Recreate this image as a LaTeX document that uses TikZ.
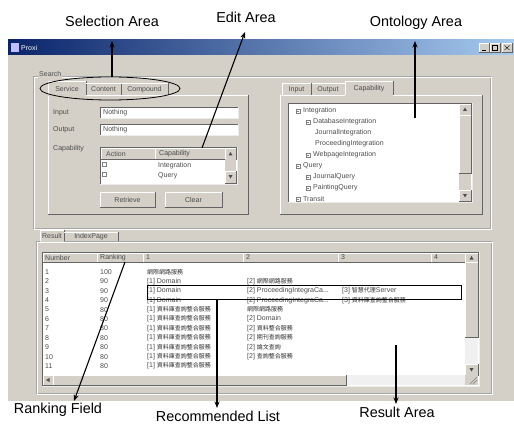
\documentclass[tikz,border=0pt]{standalone}
\usepackage{fontspec}
\setmainfont{Liberation Sans}
\newfontfamily\cjkf{Noto Sans CJK TC}
\usetikzlibrary{arrows.meta}
\definecolor{winbg}{RGB}{212,208,200}
\definecolor{tbdark}{RGB}{10,36,106}
\definecolor{tblight}{RGB}{166,202,240}
\definecolor{guidark}{RGB}{100,100,100}
\newcommand{\cj}[1]{{\cjkf\fontsize{6}{7}\selectfont\color{gray!35!black}#1}}
% raised (button) box
\newcommand{\guiraised}[4]{%
  \fill[winbg] (#1,#2) rectangle (#3,#4);
  \draw[white] (#1,#4) -- (#1,#2) -- (#3,#2);
  \draw[guidark] (#1,#4) -- (#3,#4) -- (#3,#2);}
% sunken white field
\newcommand{\guisunk}[4]{%
  \fill[white] (#1,#2) rectangle (#3,#4);
  \draw[guidark] (#1,#4) -- (#1,#2) -- (#3,#2);
  \draw[white!85!gray] (#1,#4) -- (#3,#4) -- (#3,#2);}
% tab panel outline
\newcommand{\guipanel}[4]{%
  \draw[white] (#1,#4) -- (#1,#2) -- (#3,#2);
  \draw[guidark] (#1,#4) -- (#3,#4) -- (#3,#2);}
\begin{document}
\begin{tikzpicture}[x=1pt,y=-1pt,
  gt/.style={font=\fontsize{7}{8}\selectfont, text=gray!60!black, inner sep=0pt, anchor=west},
  gtc/.style={gt, anchor=center},
  lbl/.style={font=\fontsize{14.4}{16}\selectfont, inner sep=0pt, anchor=base, text=black},
  callout/.style={-{Stealth[length=6.5pt,width=5pt]}, line width=1.1pt, black},
  hilite/.style={draw=black, line width=0.8pt}]
\useasboundingbox (0,0) rectangle (514,425);
\fill[white] (0,0) rectangle (514,425);

% ---------- window ----------
\fill[winbg] (8,40) rectangle (514,401);
\shade[left color=tbdark, right color=tblight] (8,40) rectangle (514,55);
\fill[blue!25!white] (11,43) rectangle (19,52);
\node[gt, text=white] (title) at (21,47.5) {Proxi};
\guiraised{479}{43}{489}{52}
\guiraised{490}{43}{500}{52}
\guiraised{502}{43}{512}{52}
\draw[black] (482,50) -- (486,50);
\draw[black] (492.5,45.5) rectangle (497.5,50);
\draw[black] (504.5,45.5) -- (509.5,50) (509.5,45.5) -- (504.5,50);

% outer group frames
\draw[gray!70] (33,76) rectangle (490,228);
\draw[white] (34,77) rectangle (491,229);
\node[gt, fill=winbg, inner sep=1pt] (grp) at (38,74) {Search};
\draw[gray!70] (36,241) rectangle (491,393);
\draw[white] (37,242) rectangle (492,394);

% ---------- left (selection / edit) panel ----------
\guipanel{48}{95}{248}{214}
% tabs
\fill[winbg] (48,81) rectangle (86,96);
\draw[white] (48,95) -- (48,81) -- (86,81);
\draw[guidark] (86,81) -- (86,95);
\draw[white] (86,83) -- (121,83);
\draw[guidark] (121,83) -- (121,95);
\draw[white] (121,83) -- (168,83);
\draw[guidark] (168,83) -- (168,95);
\node[gtc] (tabServ) at (67,88.5) {Service};
\node[gtc] (tabCont) at (103.5,89.5) {Content};
\node[gtc] (tabComp) at (144.5,89.5) {Compound};

\node[gt] (lblIn) at (53,112.5) {Input};
\node[gt] (lblOut) at (53,129.5) {Output};
\node[gt] (lblCap) at (53,148.5) {Capability};
\guisunk{100}{107}{238}{118}
\guisunk{100}{124}{238}{135}
\node[gt] (valIn) at (103,112.5) {Nothing};
\node[gt] (valOut) at (103,129.5) {Nothing};

% capability table
\guisunk{100}{147}{237}{184}
\guiraised{101}{148}{155}{159}
\guiraised{155}{148}{225}{159}
\guiraised{225}{148}{236}{159}
\fill[winbg] (225,159) rectangle (236,183);
\guiraised{225}{171}{236}{183}
\fill[gray!60!black] (228.5,155.5) -- (232.5,155.5) -- (230.5,152) -- cycle;
\fill[gray!60!black] (228.5,175) -- (232.5,175) -- (230.5,178.5) -- cycle;
\node[gt] (hdAct) at (106,153.5) {Action};
\node[gt] (hdCap) at (159,153.5) {Capability};
\draw[gray] (102,162.5) rectangle (106,166.5);
\draw[gray] (102,172.5) rectangle (106,176.5);
\node[gt] (rowInt) at (158,165.5) {Integration};
\node[gt] (rowQry) at (158,175.5) {Query};
% buttons
\guiraised{100}{192}{155}{207}
\guiraised{165}{192}{222}{207}
\node[gtc] (btnRet) at (127.5,199.5) {Retrieve};
\node[gtc] (btnClr) at (193.5,199.5) {Clear};

% selection ellipse
\draw[line width=0.8pt] (110,88.5) ellipse [x radius=70pt, y radius=11.5pt];

% ---------- right (ontology) panel ----------
\guipanel{280}{95}{482}{214}
\draw[white] (282,95) -- (282,83) -- (311,83) (311,83) -- (345,83);
\draw[guidark] (311,83) -- (311,95) (345,83) -- (345,95);
\fill[winbg] (345,81) rectangle (393,96);
\draw[white] (345,95) -- (345,81) -- (393,81);
\draw[guidark] (393,81) -- (393,95);
\node[gtc] (tabIn) at (296.5,89.5) {Input};
\node[gtc] (tabOut) at (328,89.5) {Output};
\node[gtc] (tabCap) at (369,88.5) {Capability};

\guisunk{288}{103}{472}{202}
\fill[winbg] (459,104) rectangle (471,201);
\guiraised{459}{104}{471}{115}
\guiraised{459}{115}{471}{173}
\guiraised{459}{190}{471}{201}
\fill[gray!60!black] (463,111) -- (467,111) -- (465,107.5) -- cycle;
\fill[gray!60!black] (463,194) -- (467,194) -- (465,197.5) -- cycle;
\begin{scope}
\clip (289,104) rectangle (458,201);
\foreach \bxx/\tx/\yy/\txt [count=\k] in {
  298/303/111/Integration,
  308/313/122/DatabaseIntegration,
  0/315/133/JournalIntegration,
  0/315/144/ProceedingIntegration,
  308/313/155/WebpageIntegration,
  298/303/166/Query,
  308/313/177/JournalQuery,
  308/313/188/PaintingQuery,
  298/303/199/Transit}{
  \ifnum\bxx>0
    \draw[gray] (\bxx-2,\yy-2) rectangle (\bxx+2,\yy+2);
    \draw[gray] (\bxx-1,\yy) -- (\bxx+1,\yy);
  \fi
  \node[gt] (tree\k) at (\tx,\yy) {\txt};
}
\end{scope}

% ---------- bottom (result) panel ----------
\fill[winbg] (40,230) rectangle (64,242);
\draw[white] (40,241) -- (40,230) -- (64,230);
\draw[guidark] (64,230) -- (64,241);
\draw[white] (64,232) -- (118,232);
\draw[guidark] (118,232) -- (118,241);
\node[gtc] (tabRes) at (52,235.5) {Result};
\node[gtc] (tabIdx) at (91,236.5) {IndexPage};

\guisunk{42}{252}{479}{386}
\guiraised{43}{253}{97}{262}
\guiraised{97}{253}{143}{262}
\guiraised{143}{253}{243}{262}
\guiraised{243}{253}{338}{262}
\guiraised{338}{253}{431}{262}
\guiraised{431}{253}{465}{262}
\guiraised{465}{253}{478}{262}
\fill[gray!60!black] (469.5,259.5) -- (473.5,259.5) -- (471.5,256) -- cycle;
\node[gt] (hNum) at (45,257.5) {Number};
\node[gt] (hRank) at (100,257.5) {Ranking};
\node[gt] (h1) at (146,257.5) {1};
\node[gt] (h2) at (246,257.5) {2};
\node[gt] (h3) at (341,257.5) {3};
\node[gt] (h4) at (434,257.5) {4};
% scrollbars
\fill[gray!12] (465,262) rectangle (478,375);
\guiraised{465}{262}{478}{337}
\guiraised{465}{364}{478}{375}
\fill[gray!60!black] (469.5,368) -- (473.5,368) -- (471.5,371.5) -- cycle;
\fill[gray!12] (43,375) rectangle (465,385);
\guiraised{43}{375}{53}{385}
\guiraised{53}{375}{346}{385}
\fill[gray!60!black] (49.5,378) -- (49.5,382) -- (46,380) -- cycle;
\fill[winbg] (465,375) rectangle (478,385);
\draw[gray] (470,384) -- (477,377) (473,384) -- (477,380);

% rows
\foreach \n/\rk [count=\k] in {1/100,2/90,3/90,4/90,5/80,6/80,7/80,8/80,9/80,10/80,11/80}{
  \node[gt] (num\k) at (45,{272+9.4*(\k-1)}) {\n};
  \node[gt] (rank\k) at (100,{272+9.4*(\k-1)}) {\rk};
}
\begin{scope}
\clip (143,263) rectangle (241,374);
\node[gt] (c1r1) at (147,272) {\cj{網際網路服務}};
\node[gt] (c1r2) at (147,281.4) {[1] Domain};
\node[gt] (c1r3) at (147,290.8) {[1] Domain};
\node[gt] (c1r4) at (147,300.2) {[1] Domain};
\foreach \k in {5,...,11}{
  \node[gt] (c1r\k) at (147,{272+9.4*(\k-1)}) {[1] \cj{資料庫查詢整合服務}};
}
\end{scope}
\begin{scope}
\clip (243,263) rectangle (336,374);
\node[gt] (c2r2) at (247,281.4) {[2] \cj{網際網路服務}};
\node[gt] (c2r3) at (247,290.8) {[2] ProceedingIntegraCa...};
\node[gt] (c2r4) at (247,300.2) {[2] ProceedingIntegraCa...};
\node[gt] (c2r5) at (247,309.6) {\cj{網際網路服務}};
\node[gt] (c2r6) at (247,319) {[2] Domain};
\node[gt] (c2r7) at (247,328.4) {[2] \cj{資料整合服務}};
\node[gt] (c2r8) at (247,337.8) {[2] \cj{期刊查詢服務}};
\node[gt] (c2r9) at (247,347.2) {[2] \cj{論文查詢}};
\node[gt] (c2r10) at (247,356.6) {[2] \cj{查詢整合服務}};
\end{scope}
\begin{scope}
\clip (338,263) rectangle (429,374);
\node[gt] (c3r3) at (342,290.8) {[3] \cj{智慧代理}Server};
\node[gt] (c3r4) at (342,300.2) {[3] \cj{資料庫查詢整合服務}};
\end{scope}

% recommended highlight
\draw[hilite] (147,285.5) rectangle (461,299);

% ---------- callout labels ----------
\node[lbl] (selL) at (112,26.5) {Selection Area};
\node[lbl] (editL) at (246,23) {Edit Area};
\node[lbl] (ontoL) at (416,26.5) {Ontology Area};
\node[lbl] (rankL) at (58,413) {Ranking Field};
\node[lbl] (recL) at (218,421.5) {Recommended List};
\node[lbl] (resL) at (397,417) {Result Area};

\coordinate (selS) at (112,77);   \coordinate (selT) at (112,41);
\coordinate (editS) at (202,148); \coordinate (editT) at (245,32);
\coordinate (ontoS) at (415,118); \coordinate (ontoT) at (415,41);
\coordinate (rankS) at (125,262); \coordinate (rankT) at (74,401);
\coordinate (recS) at (217,299);  \coordinate (recT) at (217,408);
\coordinate (resS) at (396,345);  \coordinate (resT) at (396,404);
\draw[callout] (selS) -- (selT);
\draw[callout] (editS) -- (editT);
\draw[callout] (ontoS) -- (ontoT);
\draw[callout] (rankS) -- (rankT);
\draw[callout] (recS) -- (recT);
\draw[callout] (resS) -- (resT);
\end{tikzpicture}
\end{document}
